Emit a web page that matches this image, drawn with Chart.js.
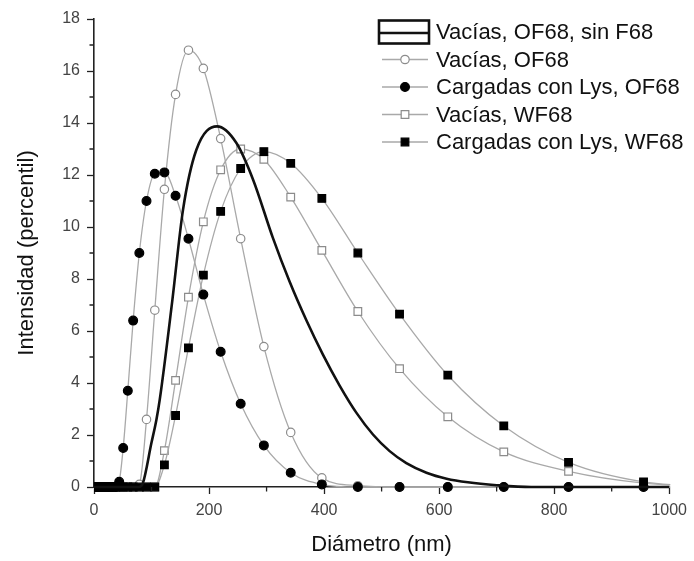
<!DOCTYPE html>
<html lang="es">
<head>
<meta charset="utf-8">
<title>Distribución de tamaño</title>
<script src="https://cdn.jsdelivr.net/npm/chart.js@4.4.0/dist/chart.umd.min.js"></script>
<style>
    html, body { margin: 0; padding: 0; background: #fff; }
    canvas { display: block; }
</style>
</head>
<body>
<canvas id="sizeChart" width="694" height="561"></canvas>
<script>
// --- DATA ---
// Diameter bins (nm)
const diameters = [
    4.187, 4.849, 5.615, 6.503, 7.531, 8.721, 10.1, 11.7, 13.54, 15.69,
    18.17, 21.04, 24.36, 28.21, 32.67, 37.84, 43.82, 50.75, 58.77, 68.06,
    78.82, 91.28, 105.7, 122.4, 141.8, 164.2, 190.1, 220.2, 255.0, 295.3,
    342.0, 396.1, 458.7, 531.2, 615.1, 712.4, 825.0, 955.4, 1106
];

// Intensity (percentile) per bin
const vaciasOF68 = [
    0, 0, 0, 0, 0, 0, 0, 0, 0, 0,
    0, 0, 0, 0, 0, 0, 0, 0, 0, 0,
    0.1, 2.6, 6.8, 11.45, 15.1, 16.8, 16.1, 13.4, 9.55, 5.4,
    2.1, 0.35, 0.05, 0, 0, 0, 0, 0, 0
];
const cargadasLysOF68 = [
    0, 0, 0, 0, 0, 0, 0, 0, 0, 0,
    0, 0, 0, 0, 0, 0, 0.2, 1.5, 3.7, 6.4,
    9.0, 11.0, 12.05, 12.1, 11.2, 9.55, 7.4, 5.2, 3.2, 1.6,
    0.55, 0.1, 0, 0, 0, 0, 0, 0, 0
];
const vaciasWF68 = [
    0, 0, 0, 0, 0, 0, 0, 0, 0, 0,
    0, 0, 0, 0, 0, 0, 0, 0, 0, 0,
    0, 0, 0, 1.4, 4.1, 7.3, 10.2, 12.2, 13.0, 12.6,
    11.15, 9.1, 6.75, 4.55, 2.7, 1.35, 0.6, 0.15, 0
];
const cargadasLysWF68 = [
    0, 0, 0, 0, 0, 0, 0, 0, 0, 0,
    0, 0, 0, 0, 0, 0, 0, 0, 0, 0,
    0, 0, 0, 0.85, 2.75, 5.35, 8.15, 10.6, 12.25, 12.9,
    12.45, 11.1, 9.0, 6.65, 4.3, 2.35, 0.95, 0.2, 0
];

// Continuous curve without markers (its own diameters)
const curveDiameters = [
    0, 78, 85, 99.8, 108.5, 114.3, 136.3, 154.8, 178, 214,
    247.6, 276.6, 311, 340, 369, 398, 427, 456, 485, 514,
    543, 578, 613, 650, 700, 760, 1000
];
const vaciasOF68SinF68 = [
    0, 0, 0.15, 1.69, 2.59, 3.36, 7.2, 10.67, 12.97, 13.87,
    13.23, 11.82, 9.58, 7.9, 6.42, 5.09, 3.9, 2.86, 2.02, 1.38,
    0.92, 0.55, 0.32, 0.18, 0.07, 0, 0
];

const seriesLabels = [
    'Vacías, OF68, sin F68',
    'Vacías, OF68',
    'Cargadas con Lys, OF68',
    'Vacías, WF68',
    'Cargadas con Lys, WF68'
];

const xTicks = [0, 200, 400, 600, 800, 1000];
const yTicks = [0, 2, 4, 6, 8, 10, 12, 14, 16, 18];

// --- STYLE ---
const FONT = "'Liberation Sans', Arial, sans-serif";
const GRAY_LINE = '#a9a9a9';
const GRAY_MARK = '#8c8c8c';
const CLIP = { left: 0, top: 6, right: 1, bottom: 8 };

const toPoints = (xs, values) => xs.map((d, i) => ({ x: d, y: values[i] }));

function markerSeries(label, values, style, filled, radius, order) {
    return {
        label: label,
        data: toPoints(diameters, values),
        borderColor: GRAY_LINE,
        borderWidth: 1.3,
        cubicInterpolationMode: 'monotone',
        pointStyle: style,
        pointRadius: radius,
        pointBorderWidth: 1.2,
        pointBackgroundColor: filled ? '#000' : '#fff',
        pointBorderColor: filled ? '#000' : GRAY_MARK,
        order: order,
        clip: CLIP
    };
}

const datasets = [
    {
        label: seriesLabels[0],
        data: toPoints(curveDiameters, vaciasOF68SinF68),
        borderColor: '#111',
        borderWidth: 2.6,
        cubicInterpolationMode: 'monotone',
        pointRadius: 0,
        order: 0,
        clip: CLIP
    },
    markerSeries(seriesLabels[1], vaciasOF68, 'circle', false, 4.2, 3),
    markerSeries(seriesLabels[2], cargadasLysOF68, 'circle', true, 4.4, 1),
    markerSeries(seriesLabels[3], vaciasWF68, 'rect', false, 5.4, 4),
    markerSeries(seriesLabels[4], cargadasLysWF68, 'rect', true, 5.4, 2)
];

// --- PLUGINS ---
// Short unlabeled ticks halfway between the labeled ones
const minorTicks = {
    id: 'minorTicks',
    afterDraw(chart) {
        const { ctx, scales: { x, y } } = chart;
        ctx.save();
        ctx.strokeStyle = '#222';
        ctx.lineWidth = 1.3;
        ctx.beginPath();
        for (let i = 0; i < xTicks.length - 1; i++) {
            const px = x.getPixelForValue((xTicks[i] + xTicks[i + 1]) / 2);
            ctx.moveTo(px, y.bottom);
            ctx.lineTo(px, y.bottom + 4.5);
        }
        for (let i = 0; i < yTicks.length - 1; i++) {
            const py = y.getPixelForValue((yTicks[i] + yTicks[i + 1]) / 2);
            ctx.moveTo(x.left, py);
            ctx.lineTo(x.left - 4.5, py);
        }
        ctx.stroke();
        ctx.restore();
    }
};

// Legend drawn inside the plot, top right
const insideLegend = {
    id: 'insideLegend',
    afterDraw(chart) {
        const ctx = chart.ctx;
        const textX = 436;
        const symLeft = 382;
        const symRight = 428;
        const rowTop = 32;
        const rowStep = 27.5;

        ctx.save();
        ctx.font = `22px ${FONT}`;
        ctx.textBaseline = 'middle';
        ctx.textAlign = 'left';

        seriesLabels.forEach((label, i) => {
            const ds = chart.data.datasets[i];
            const cy = rowTop + i * rowStep;

            if (i === 0) {
                ctx.strokeStyle = ds.borderColor;
                ctx.lineWidth = 2.6;
                ctx.strokeRect(379, cy - 11.5, 50, 23);
                ctx.beginPath();
                ctx.moveTo(379, cy + 1);
                ctx.lineTo(429, cy + 1);
                ctx.stroke();
            } else {
                ctx.strokeStyle = ds.borderColor;
                ctx.lineWidth = ds.borderWidth;
                ctx.beginPath();
                ctx.moveTo(symLeft, cy);
                ctx.lineTo(symRight, cy);
                ctx.stroke();

                const mx = (symLeft + symRight) / 2;
                ctx.fillStyle = ds.pointBackgroundColor;
                ctx.strokeStyle = ds.pointBorderColor;
                ctx.lineWidth = ds.pointBorderWidth;
                ctx.beginPath();
                if (ds.pointStyle === 'rect') {
                    const half = ds.pointRadius * Math.SQRT1_2;
                    ctx.rect(mx - half, cy - half, half * 2, half * 2);
                } else {
                    ctx.arc(mx, cy, ds.pointRadius, 0, Math.PI * 2);
                }
                ctx.fill();
                ctx.stroke();
            }

            ctx.fillStyle = '#111';
            ctx.fillText(label, textX, cy + 1);
        });
        ctx.restore();
    }
};

// --- CHART ---
new Chart(document.getElementById('sizeChart'), {
    type: 'line',
    data: { datasets: datasets },
    options: {
        responsive: false,
        animation: false,
        events: [],
        layout: { padding: { left: 0, right: 24, top: 19, bottom: 0 } },
        plugins: {
            legend: { display: false },
            tooltip: { enabled: false }
        },
        scales: {
            x: {
                type: 'linear',
                min: 0,
                max: 1000,
                afterFit: scale => { scale.height = 74; },
                afterBuildTicks: scale => { scale.ticks = xTicks.map(v => ({ value: v })); },
                border: { display: true, color: '#222', width: 1.6 },
                grid: { drawOnChartArea: false, drawTicks: true, tickLength: 7, tickColor: '#222', tickWidth: 1.3 },
                ticks: {
                    padding: 7,
                    maxRotation: 0,
                    color: '#444',
                    font: { family: FONT, size: 16 },
                    callback: value => String(value)
                },
                title: {
                    display: true,
                    text: 'Diámetro (nm)',
                    color: '#111',
                    font: { family: FONT, size: 22 },
                    padding: { top: 0, bottom: 3 }
                }
            },
            y: {
                type: 'linear',
                min: 0,
                max: 18,
                afterFit: scale => { scale.width = 94; },
                afterBuildTicks: scale => { scale.ticks = yTicks.map(v => ({ value: v })); },
                border: { display: true, color: '#222', width: 1.6 },
                grid: { drawOnChartArea: false, drawTicks: true, tickLength: 7, tickColor: '#222', tickWidth: 1.3 },
                ticks: {
                    padding: 7,
                    color: '#444',
                    font: { family: FONT, size: 16 },
                    callback: value => String(value)
                },
                title: {
                    display: true,
                    text: 'Intensidad (percentil)',
                    color: '#111',
                    font: { family: FONT, size: 22 },
                    padding: { top: 14, bottom: 0 }
                }
            }
        }
    },
    plugins: [minorTicks, insideLegend]
});
</script>
</body>
</html>
